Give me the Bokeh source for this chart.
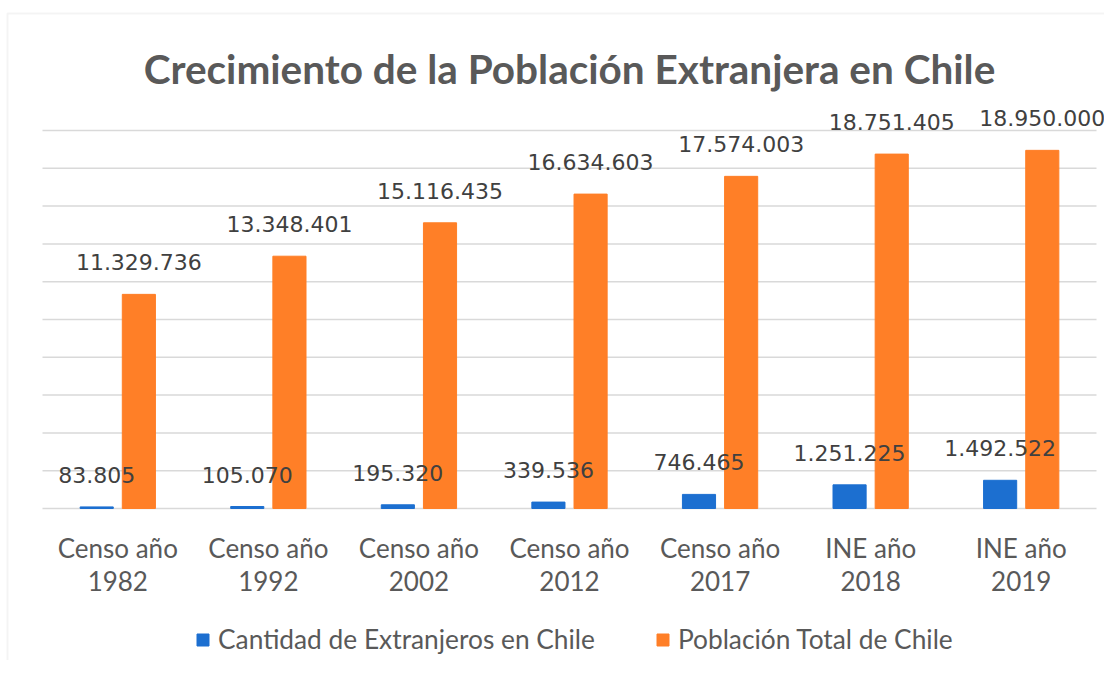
from bokeh.plotting import figure
from bokeh.models import (ColumnDataSource, Range1d, Legend, LegendItem,
                          BoxAnnotation, Label)
from bokeh.core.properties import value
from bokeh.embed import file_html
from bokeh.resources import INLINE

title_text = "Crecimiento de la Población Extranjera en Chile"
categories = ["Censo año\n1982", "Censo año\n1992", "Censo año\n2002",
              "Censo año\n2012", "Censo año\n2017", "INE año\n2018", "INE año\n2019"]
extranjeros = [83805, 105070, 195320, 339536, 746465, 1251225, 1492522]
poblacion = [11329736, 13348401, 15116435, 16634603, 17574003, 18751405, 18950000]
series_names = ["Cantidad de Extranjeros en Chile", "Población Total de Chile"]
y_ticks = [0, 2000000, 4000000, 6000000, 8000000, 10000000,
           12000000, 14000000, 16000000, 18000000, 20000000]


def fmt(v):
    return f"{v:,}".replace(",", ".")


n = len(categories)
idx = list(range(n))
OFF = 0.14   # dodge of each series within a category
BW = 0.22    # bar width (category units)

src = ColumnDataSource(dict(
    x=idx,
    xb=[i - OFF for i in idx],
    xo=[i + OFF for i in idx],
    line1=[c.split("\n")[0] for c in categories],
    line2=[c.split("\n")[1] for c in categories],
    zero=[0] * n,
    ext=extranjeros,
    pob=poblacion,
    ext_lbl=[fmt(v) for v in extranjeros],
    pob_lbl=[fmt(v) for v in poblacion],
))
grid_src = ColumnDataSource(dict(y=y_ticks, x0=[-0.5] * len(y_ticks),
                                 x1=[n - 0.5] * len(y_ticks)))

BLUE = "#1C6FD0"
ORANGE = "#FF7F27"
TXT = "#595959"
FONT = "Lato"

# layout: 1104x660 canvas, category band starting at 42 px and ending at 1096 px,
# zero line at 508 px, 18.9 px per million
W, H = 1104, 660
band = (1096 - 42) / n
x_start = -0.5 - 42 / band
x_end = x_start + W / band
ppm = 18.9 / 1e6
y_end = 508 / ppm
y_start = -(H - 508) / ppm

p = figure(x_range=Range1d(x_start, x_end), y_range=Range1d(y_start, y_end),
           width=W, height=H, output_backend="svg", toolbar_location=None,
           min_border=0)
p.outline_line_color = None
p.background_fill_color = "white"
p.border_fill_color = "white"
p.xaxis.visible = False
p.yaxis.visible = False
p.grid.visible = False

p.segment(x0="x0", x1="x1", y0="y", y1="y", source=grid_src,
          line_color="#d9d9d9", line_width=1.5)

r1 = p.vbar(x="xb", top="ext", width=BW, source=src, color=BLUE)
r2 = p.vbar(x="xo", top="pob", width=BW, source=src, color=ORANGE)

for xcol, col, lbl in (("xb", "ext", "ext_lbl"), ("xo", "pob", "pob_lbl")):
    p.text(x=xcol, y=col, text=lbl, source=src,
           text_align="center", text_baseline="middle", y_offset=-32,
           text_font_size="22px", text_font=value("DejaVu Sans"),
           text_color="#404040")

for col, yoff in (("line1", 39), ("line2", 72)):
    p.text(x="x", y="zero", text=col, source=src, text_align="center",
           text_baseline="middle", y_offset=yoff, text_font_size="26px",
           text_font=value(FONT), text_color=TXT)

title = Label(x=569, y=H - 68, x_units="screen", y_units="screen",
              text=title_text, text_align="center", text_baseline="middle",
              text_font=FONT, text_font_size="40.5px", text_font_style="bold",
              text_color=TXT)
p.add_layout(title)

legend = Legend(items=[LegendItem(label=series_names[0], renderers=[r1]),
                       LegendItem(label=series_names[1], renderers=[r2])],
                orientation="horizontal", location=(195, 5),
                label_text_font=FONT, label_text_font_size="26.3px",
                label_text_color=TXT, glyph_width=15, glyph_height=15,
                label_standoff=8, spacing=60, border_line_color=None,
                background_fill_alpha=0, padding=0)
p.add_layout(legend)

frame_box = BoxAnnotation(left=7, right=3000, top=13, bottom=3000,
                          left_units="canvas", right_units="canvas",
                          top_units="canvas", bottom_units="canvas",
                          fill_color=None, fill_alpha=0, line_color="#d9d9d9",
                          line_width=2, level="overlay", editable=False)
p.add_layout(frame_box)

open("out.html", "w").write(file_html(p, INLINE))
